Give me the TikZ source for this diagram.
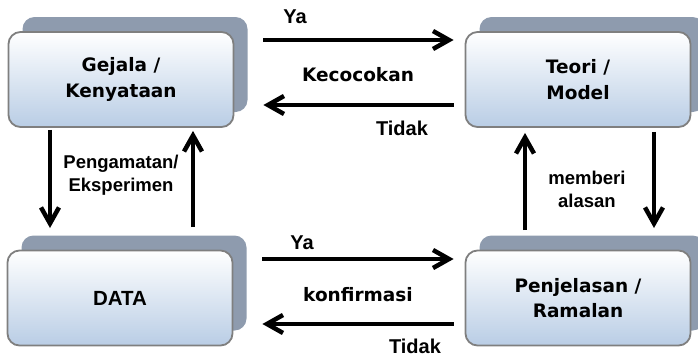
\documentclass[tikz,border=0pt]{standalone}
\usepackage{fontspec}
\newfontfamily\verdfont{DejaVu Sans}
\newfontfamily\arialfont{Liberation Sans}
\usetikzlibrary{arrows.meta,shadows,calc}
\definecolor{boxblue}{HTML}{B9CDE5}
\definecolor{boxline}{HTML}{7F7F7F}
\definecolor{boxshade}{HTML}{8E9BAE}
\tikzset{
	box/.style={draw=boxline, line width=1.8pt, rounded corners=12pt, top color=white, bottom color=boxblue,
		minimum width=225pt, minimum height=95pt, align=center,
		font=\verdfont\bfseries\fontsize{18.5}{25.5}\selectfont,
		general shadow={fill=boxshade, shadow xshift=14pt, shadow yshift=15pt}},
	arr/.style={line width=4.5pt, -{Straight Barb[length=16pt,width=18pt]}},
	verdlbl/.style={font=\verdfont\bfseries\fontsize{18.5}{22}\selectfont},
	ariallbl/.style={font=\arialfont\bfseries\fontsize{18.5}{23}\selectfont, align=center},
}

\begin{document}
\begin{tikzpicture}[x=1pt, y=-1pt]
			%%%%% START %%%%%
			\useasboundingbox (0, 0) rectangle (698, 359);
			\clip (0, 0) rectangle (698, 359);
			
			\node[box] (gejala) at (121, 79.5) {Gejala /\\Kenyataan};
			\node[box] (teori) at (578, 79.5) {Teori /\\Model};
			\node[box, font=\arialfont\bfseries\fontsize{20.5}{24}\selectfont] (data) at (120, 298) {DATA};
			\node[box] (penjelasan) at (578, 298) {Penjelasan /\\Ramalan};
			
			\draw[arr] ($(gejala.east)+(29, -39.5)$) -- ($(teori.west)+(-11, -39.5)$);
			\draw[arr] ($(teori.west)+(-11, 25.5)$) -- ($(gejala.east)+(29, 25.5)$);
			\draw[arr] ($(data.east)+(29, -39)$) -- ($(penjelasan.west)+(-11, -39)$);
			\draw[arr] ($(penjelasan.west)+(-11, 26)$) -- ($(data.east)+(29, 26)$);
			
			\draw[arr] ($(gejala.south)+(-71, 2)$) -- ($(data.north)+(-70, -21.6)$);
			\draw[arr] ($(data.north)+(73, -22.6)$) -- ($(gejala.south)+(72, 3)$);
			\draw[arr] ($(penjelasan.north)+(-53, -19.6)$) -- ($(teori.south)+(-53, 5)$);
			\draw[arr] ($(teori.south)+(76, 4)$) -- ($(penjelasan.north)+(76, -21.6)$);
			
			\node[ariallbl, font=\arialfont\bfseries\fontsize{20}{24}\selectfont] (yaatas) at (295, 17) {Ya};
			\node[verdlbl] (kecocokan) at (358, 75) {Kecocokan};
			\node[ariallbl, font=\arialfont\bfseries\fontsize{20}{24}\selectfont] (tidakatas) at (402, 128) {Tidak};
			
			\node[ariallbl, font=\arialfont\bfseries\fontsize{20}{24}\selectfont] (yabawah) at (302, 243) {Ya};
			\node[verdlbl] (konfirmasi) at (358, 295) {konfirmasi};
			\node[ariallbl, font=\arialfont\bfseries\fontsize{20}{24}\selectfont] (tidakbawah) at (415, 346) {Tidak};
			
			\node[ariallbl] (pengamatan) at (121, 175) {Pengamatan/\\Eksperimen};
			\node[ariallbl] (memberi) at (587, 189) {memberi\\alasan};
			
			%%%%% END %%%%%
		\end{tikzpicture}
\end{document}
